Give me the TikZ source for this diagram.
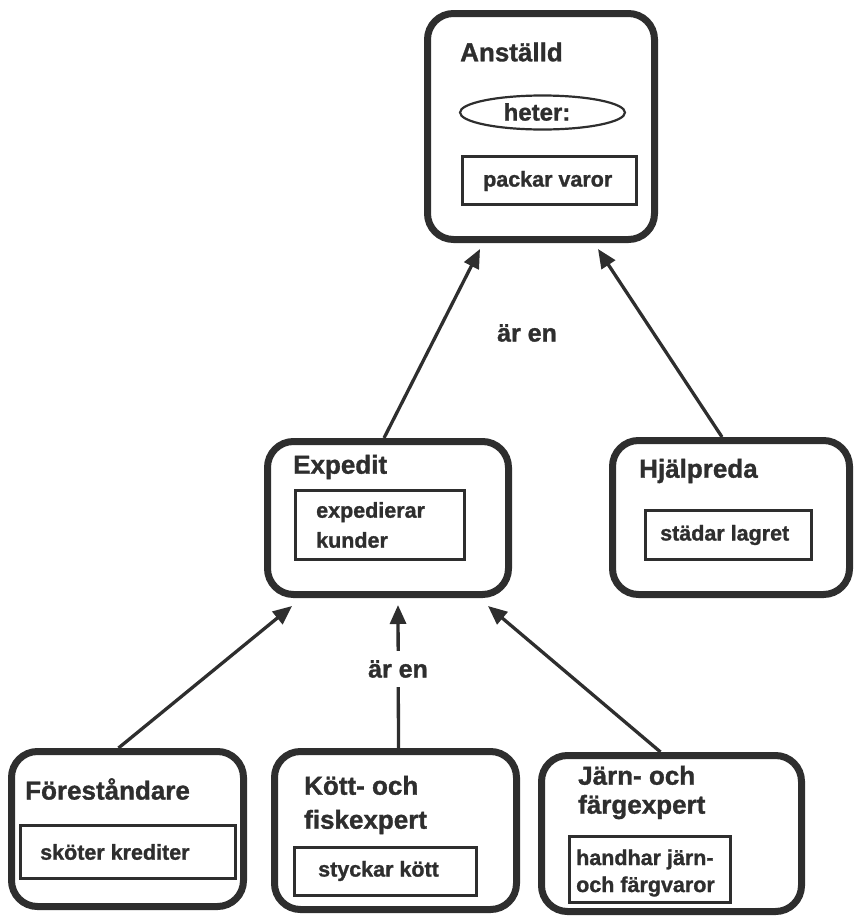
\documentclass[tikz,border=0pt]{standalone}
\usepackage{fontspec}
\setmainfont[BoldFeatures={FakeBold=1.2}]{Liberation Sans}
\usetikzlibrary{shapes.geometric,arrows.meta}
\definecolor{ink}{HTML}{2E2E2E}
\begin{document}
\begin{tikzpicture}[x=1pt,y=-1pt,
  classbox/.style={draw=ink,line width=7pt,rounded corners=26pt,inner sep=0pt},
  opbox/.style={draw=ink,line width=3.5pt,inner sep=0pt},
  attr/.style={draw=ink,ellipse,line width=2.2pt,inner sep=0pt},
  title/.style={anchor=west,inner sep=0pt,font=\fontsize{26}{32}\selectfont\bfseries,text=ink,align=left},
  optext/.style={anchor=west,inner sep=0pt,font=\fontsize{21.5}{27}\selectfont\bfseries,text=ink,align=left},
  isa/.style={draw=ink,line width=3.3pt,-{Triangle[length=19pt,width=16pt]}},
  lbl/.style={fill=white,inner xsep=3pt,inner ysep=9pt,font=\fontsize{25}{30}\selectfont\bfseries,text=ink}]
\useasboundingbox (0,0) rectangle (856,921);

% classes
\node[classbox,minimum width=227pt,minimum height=226pt] (anst) at (541,126.5) {};
\node[classbox,minimum width=241pt,minimum height=153pt] (exp) at (388,518) {};
\node[classbox,minimum width=237pt,minimum height=154pt] (hj) at (731,517.5) {};
\node[classbox,minimum width=232pt,minimum height=155pt] (fore) at (127.5,829) {};
\node[classbox,minimum width=242pt,minimum height=158pt] (kott) at (395.5,830.5) {};
\node[classbox,minimum width=260pt,minimum height=156pt] (jarn) at (671.5,833.5) {};

% class names
\node[title] (tanst) at (460,52) {Anställd};
\node[title] (texp) at (293,467) {Expedit};
\node[title] (thj) at (639,471) {Hjälpreda};
\node[title] (tfore) at (25,789) {Föreståndare};
\node[title,font=\fontsize{26}{34}\selectfont\bfseries] (tkott) at (304,805) {Kött- och\\fiskexpert};
\node[title,font=\fontsize{26}{29}\selectfont\bfseries] (tjarn) at (578,792.5) {Järn- och\\färgexpert};

% attribute
\node[attr,minimum width=165pt,minimum height=34pt] (heter) at (542.5,112.5) {};
\node[inner sep=0pt,font=\fontsize{24}{28}\selectfont\bfseries,text=ink] (theter) at (537,112) {heter:};

% operations
\node[opbox,minimum width=174pt,minimum height=48pt] (opanst) at (549.5,180.5) {};
\node[optext] (tpack) at (483,181) {packar varor};
\node[opbox,minimum width=169pt,minimum height=69pt] (opexp) at (380,525) {};
\node[optext,font=\fontsize{21.5}{30}\selectfont\bfseries] (texped) at (316,525) {expedierar\\kunder};
\node[opbox,minimum width=166pt,minimum height=49pt] (ophj) at (728.5,535) {};
\node[optext] (tstad) at (660,535) {städar lagret};
\node[opbox,minimum width=215pt,minimum height=53pt] (opfore) at (128,852) {};
\node[optext] (tskot) at (40,852) {sköter krediter};
\node[opbox,minimum width=182pt,minimum height=48pt] (opkott) at (385.5,871.5) {};
\node[optext] (tstyck) at (318,871) {styckar kött};
\node[opbox,minimum width=161pt,minimum height=66pt] (opjarn) at (650,869.5) {};
\node[optext,font=\fontsize{21.5}{27}\selectfont\bfseries] (thand) at (576,873) {handhar järn-\\och färgvaror};

% inheritance
\draw[isa] ([xshift=-4pt]exp.north) -- ([xshift=-61pt,yshift=-6pt]anst.south);
\draw[isa] ([xshift=-9pt]hj.north) -- ([xshift=57pt,yshift=-6pt]anst.south);
\draw[isa] ([xshift=-9pt]fore.north) -- ([xshift=-96pt,yshift=-8pt]exp.south);
\draw[isa] ([xshift=3pt]kott.north) -- ([xshift=10pt,yshift=-7pt]exp.south);
\draw[isa] ([xshift=-11pt]jarn.north) -- ([xshift=100pt,yshift=-8pt]exp.south);

\node[lbl] (isa1) at (527,333) {är en};
\node[lbl] (isa2) at (398,669) {är en};
\end{tikzpicture}
\end{document}
